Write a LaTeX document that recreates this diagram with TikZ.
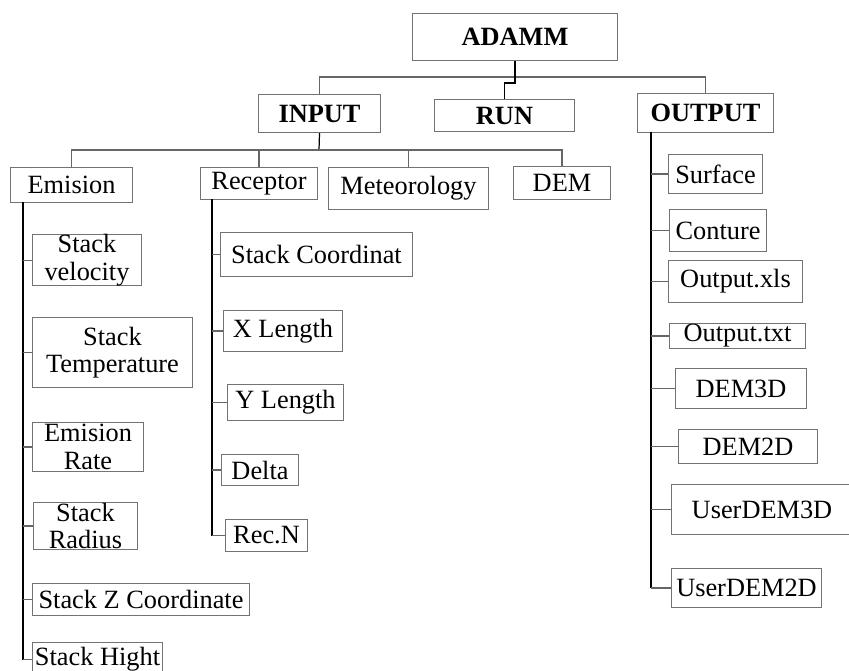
\documentclass[tikz,border=0pt]{standalone}
\usepackage{fontspec}
\setmainfont{Liberation Serif}
\usepackage{tikz}
\usetikzlibrary{positioning}

\begin{document}
\begin{tikzpicture}[x=0.02cm, y=-0.02cm,
    tbox/.style={draw=black!55, line width=0.6pt, rectangle, inner sep=0pt, anchor=north west, align=center, font=\fontsize{15}{15.5}\selectfont},
    hbox/.style={tbox, font=\fontsize{15}{15.5}\selectfont\bfseries},
    link/.style={draw=black!60, line width=0.6pt},
    trunk/.style={draw=black, line width=0.7pt}]
    \useasboundingbox (0,0) rectangle (849,671);

    \node[hbox, minimum width=4.10cm, minimum height=0.94cm] (adamm) at (412,13) {ADAMM};
    \node[hbox, minimum width=2.44cm, minimum height=0.76cm] (in) at (258,94) {INPUT};
    \node[hbox, minimum width=2.80cm, minimum height=0.64cm] (run) at (434,99) {RUN};
    \node[hbox, minimum width=2.72cm, minimum height=0.78cm] (out) at (637,93) {OUTPUT};

    \node[tbox, minimum width=2.44cm, minimum height=0.70cm] (emis) at (10,167) {Emision};
    \node[tbox, minimum width=2.34cm, minimum height=0.64cm] (rec) at (200,167) {Receptor};
    \node[tbox, minimum width=3.20cm, minimum height=0.84cm] (met) at (328,167) {Meteorology};
    \node[tbox, minimum width=1.94cm, minimum height=0.66cm] (dem) at (513,166) {DEM};

    \node[tbox, minimum width=2.18cm, minimum height=0.96cm] (svel) at (32,234) {Stack\\velocity};
    \node[tbox, minimum width=3.20cm, minimum height=1.40cm] (stemp) at (32,317) {Stack\\Temperature};
    \node[tbox, minimum width=2.22cm, minimum height=0.98cm] (erate) at (32,422) {Emision\\Rate};
    \node[tbox, minimum width=2.08cm, minimum height=0.94cm] (srad) at (33,502) {Stack\\Radius};
    \node[tbox, minimum width=4.34cm, minimum height=0.64cm] (sz) at (32,583) {Stack Z Coordinate};
    \node[tbox, minimum width=2.60cm, minimum height=0.68cm] (shight) at (32,642) {Stack Hight};

    \node[tbox, minimum width=3.84cm, minimum height=0.88cm] (scoord) at (220,232) {Stack Coordinat};
    \node[tbox, minimum width=2.38cm, minimum height=0.82cm] (xlen) at (223,310) {X Length};
    \node[tbox, minimum width=2.32cm, minimum height=0.72cm] (ylen) at (227,384) {Y Length};
    \node[tbox, minimum width=1.54cm, minimum height=0.62cm] (delta) at (221,454) {Delta};
    \node[tbox, minimum width=1.64cm, minimum height=0.64cm] (recn) at (225,519) {Rec.N};

    \node[tbox, minimum width=1.88cm, minimum height=0.78cm] (surf) at (668,154) {Surface};
    \node[tbox, minimum width=1.94cm, minimum height=0.84cm] (cont) at (669,209) {Conture};
    \node[tbox, minimum width=2.68cm, minimum height=0.84cm] (oxls) at (668,260) {Output.xls};
    \node[tbox, minimum width=2.72cm, minimum height=0.50cm] (otxt) at (669,323) {Output.txt};
    \node[tbox, minimum width=2.62cm, minimum height=0.80cm] (dthree) at (675,368) {DEM3D};
    \node[tbox, minimum width=2.78cm, minimum height=0.68cm] (dtwo) at (678,429) {DEM2D};
    \node[tbox, minimum width=3.62cm, minimum height=1.00cm] (uthree) at (671,484) {UserDEM3D};
    \node[tbox, minimum width=3.00cm, minimum height=0.78cm] (utwo) at (671,568) {UserDEM2D};

    \coordinate (ibus) at (319,150);
    \coordinate (et) at (23,202);
    \coordinate (rt) at (212,199);
    \coordinate (ot) at (651,132);

    \draw[link] (in.north) -- ++(0,-17) -| (out.north);
    \draw[trunk] (adamm.south) -- ++(0,22) -| (run.north);

    \draw[trunk] (in.south) -- (ibus);
    \draw[link] (emis.north) |- (ibus) -| (dem.north);
    \draw[link] (rec.north) -- (rec.north |- ibus);
    \draw[link] (met.north) -- (met.north |- ibus);

    \draw[trunk] (et) -- (et |- shight.west);
    \draw[trunk] (rt) -- (rt |- recn.west);
    \draw[trunk] (ot) -- (ot |- utwo.west);
    \foreach \c in {svel, stemp, erate, srad, sz, shight}
        \draw[link] (et |- \c.west) -- (\c.west);
    \foreach \c in {scoord, xlen, ylen, delta, recn}
        \draw[link] (rt |- \c.west) -- (\c.west);
    \foreach \c in {surf, cont, oxls, otxt, dthree, dtwo, uthree, utwo}
        \draw[link] (ot |- \c.west) -- (\c.west);
\end{tikzpicture}
\end{document}
